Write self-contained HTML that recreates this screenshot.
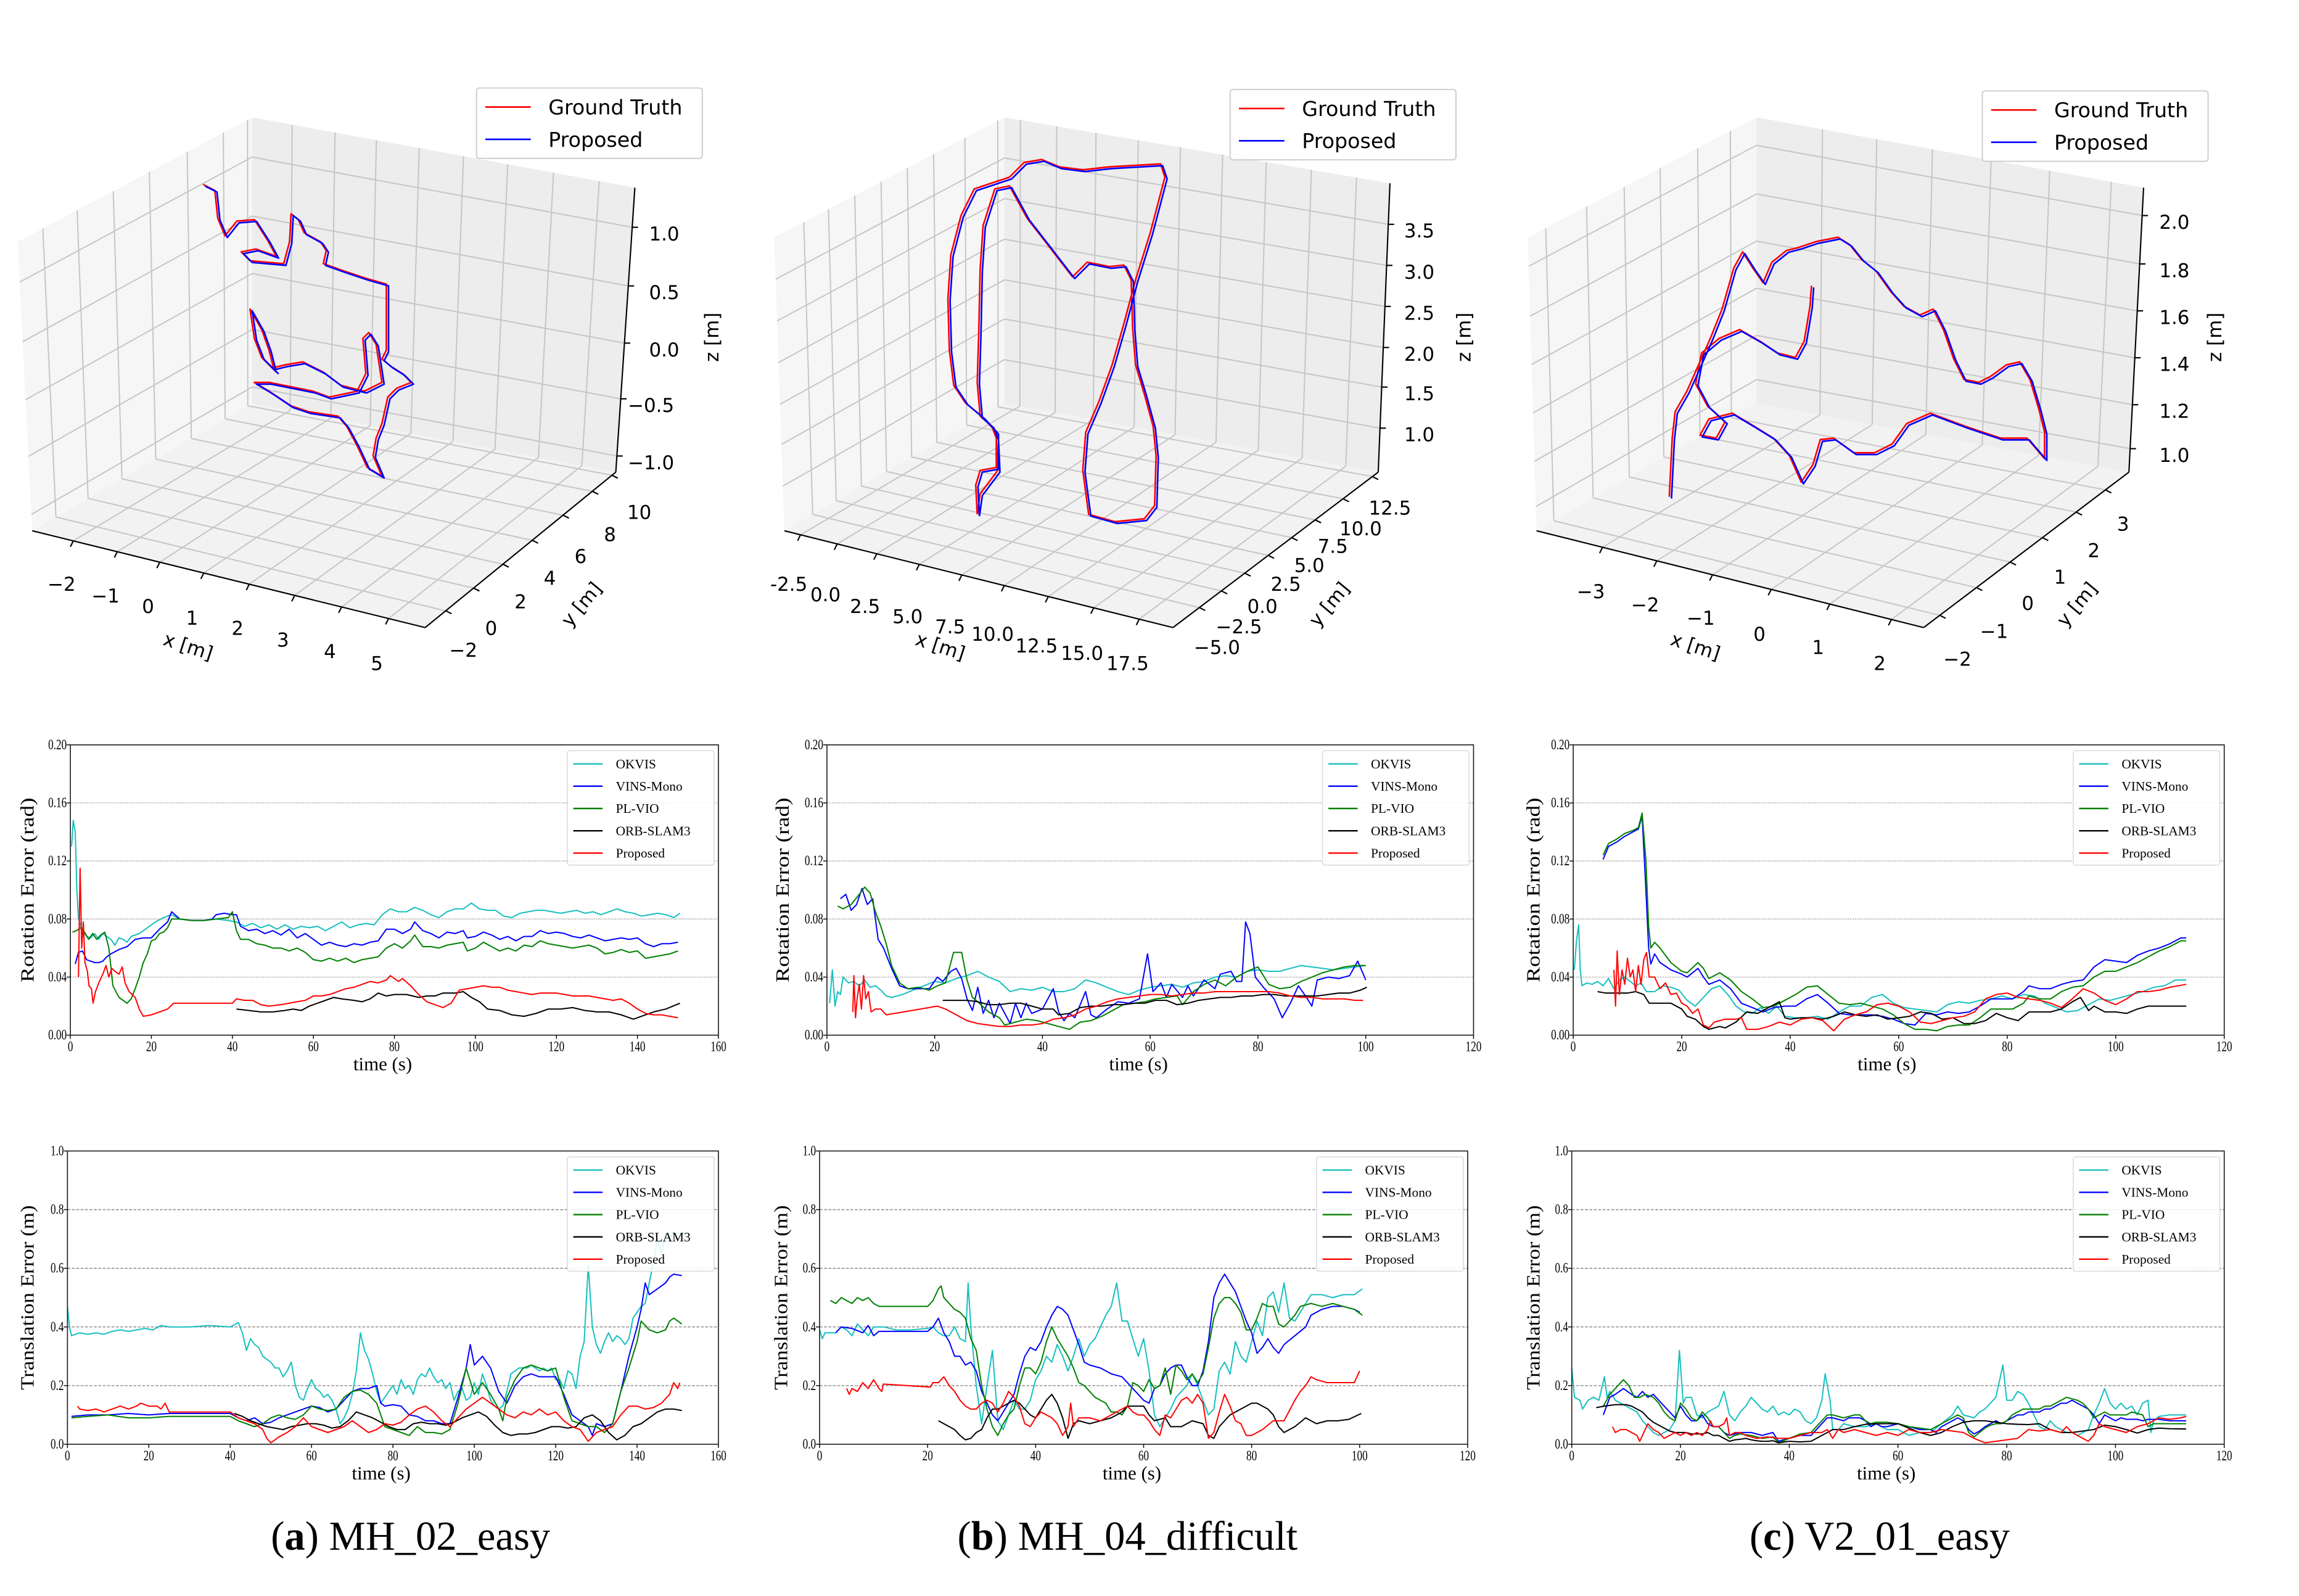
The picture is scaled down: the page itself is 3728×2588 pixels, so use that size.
<!DOCTYPE html>
<html><head><meta charset="utf-8"><style>
html,body{margin:0;padding:0;background:#fff;}
svg{display:block;}
</style></head><body>
<svg id="fig" xmlns="http://www.w3.org/2000/svg" width="3728" height="2588" viewBox="0 0 1568 1088.5">
<rect x="0" y="0" width="1568" height="1089" fill="#fff"/>
<g id="root"></g>
<text x="280" y="1057" text-anchor="middle" font-family="Liberation Serif, serif" font-size="28">(<tspan font-weight="bold">a</tspan>) MH_02_easy</text>
<text x="769" y="1057" text-anchor="middle" font-family="Liberation Serif, serif" font-size="28">(<tspan font-weight="bold">b</tspan>) MH_04_difficult</text>
<text x="1282" y="1057" text-anchor="middle" font-family="Liberation Serif, serif" font-size="28">(<tspan font-weight="bold">c</tspan>) V2_01_easy</text>
</svg>
<script>
// ---------- DATA ----------
const seriesNames = ['OKVIS','VINS-Mono','PL-VIO','ORB-SLAM3','Proposed'];
const seriesColors = ['#17bfbf','#0000ff','#008000','#000000','#ff0000'];
const rotTicks = [0,0.04,0.08,0.12,0.16,0.20];
const trTicks = [0,0.2,0.4,0.6,0.8,1.0];
const xTicksA = [0,20,40,60,80,100,120,140,160];
const xTicksBC = [0,20,40,60,80,100,120];

const rotA_okvis=[[0.3,.13],[0.7,.148],[1.2,.14],[1.6,.10],[2,.08],[3,.072],[4,.068],[5,.067],[6,.07],[7,.066],[8,.07],[9,.068],[10,.066],[11,.062],[12,.067],[13,.066],[14,.064],[15,.068],[17,.07],[19,.074],[21,.078],[23,.081],[25,.083],[27,.08],[30,.079],[33,.079],[36,.08],[39,.079],[41,.078],[43,.075],[45,.077],[47,.074],[49,.076],[51,.073],[53,.076],[55,.073],[57,.075],[59,.074],[61,.075],[63,.072],[65,.075],[67,.078],[69,.074],[71,.076],[73,.077],[75,.076],[77,.083],[79,.087],[81,.085],[83,.085],[85,.088],[87,.086],[89,.083],[91,.081],[93,.085],[95,.087],[97,.087],[99,.091],[101,.087],[103,.086],[105,.086],[107,.082],[109,.081],[111,.084],[113,.085],[115,.086],[117,.086],[119,.085],[121,.084],[123,.085],[125,.086],[127,.084],[129,.085],[131,.083],[133,.085],[135,.087],[137,.085],[139,.084],[141,.082],[143,.083],[145,.084],[147,.083],[149,.081],[150.5,.084]];
const rotA_vins=[[1.2,.049],[2,.057],[3,.058],[4,.052],[5,.051],[6,.050],[7,.050],[8,.051],[9,.054],[10,.056],[12,.059],[14,.061],[16,.066],[18,.067],[20,.067],[22,.073],[24,.078],[25,.085],[27,.080],[30,.079],[33,.079],[35,.08],[36,.083],[38,.084],[40,.083],[41,.083],[42,.075],[44,.072],[46,.073],[48,.070],[50,.072],[52,.069],[54,.073],[56,.067],[58,.070],[60,.066],[62,.062],[64,.064],[66,.062],[68,.061],[70,.063],[72,.062],[74,.064],[76,.065],[78,.073],[80,.073],[82,.070],[84,.073],[85,.078],[87,.072],[89,.070],[91,.067],[93,.071],[95,.070],[97,.072],[98,.067],[100,.068],[102,.071],[104,.069],[106,.066],[108,.068],[110,.065],[112,.068],[114,.068],[116,.072],[118,.070],[120,.071],[122,.070],[124,.068],[126,.067],[128,.069],[130,.067],[132,.065],[134,.066],[136,.067],[138,.066],[140,.067],[142,.063],[144,.061],[146,.063],[148,.063],[150,.064]];
const rotA_plvio=[[0.5,.071],[1.5,.072],[2.5,.074],[3.5,.071],[4.5,.066],[5.5,.070],[6.5,.066],[7.5,.069],[8.5,.071],[9.5,.060],[10.5,.034],[12,.026],[13,.024],[14,.022],[15,.025],[16,.032],[17,.040],[18,.050],[19,.056],[20,.065],[21,.066],[22,.070],[23,.071],[24,.074],[25,.080],[27,.080],[30,.079],[33,.079],[36,.080],[39,.081],[40,.085],[41,.072],[42,.066],[44,.066],[46,.063],[48,.062],[50,.060],[52,.060],[54,.058],[56,.060],[58,.057],[60,.052],[62,.051],[64,.053],[66,.051],[68,.053],[70,.050],[72,.052],[74,.053],[76,.054],[78,.060],[80,.063],[82,.060],[84,.065],[85,.069],[87,.061],[89,.061],[91,.060],[93,.062],[95,.063],[97,.064],[98,.058],[100,.060],[102,.064],[104,.061],[106,.058],[108,.060],[110,.058],[112,.062],[114,.061],[116,.065],[118,.063],[120,.062],[122,.061],[124,.060],[126,.061],[128,.062],[130,.060],[132,.056],[134,.057],[136,.059],[138,.057],[140,.058],[142,.053],[144,.054],[146,.055],[148,.056],[150,.058]];
const rotA_orb=[[41,.018],[44,.017],[47,.016],[50,.016],[53,.017],[55,.018],[57,.017],[59,.020],[62,.023],[65,.026],[67,.025],[70,.024],[72,.023],[74,.025],[76,.029],[78,.027],[80,.028],[83,.028],[86,.026],[88,.027],[90,.027],[92,.029],[95,.029],[97,.030],[99,.026],[101,.023],[103,.018],[106,.017],[109,.014],[112,.013],[115,.015],[118,.018],[121,.018],[124,.019],[127,.017],[130,.016],[133,.016],[136,.014],[139,.011],[141,.013],[144,.016],[147,.018],[150.5,.022]];
const rotA_prop=[[2,.04],[2.4,.115],[2.8,.06],[3.2,.078],[3.6,.05],[4.2,.044],[4.6,.034],[5.2,.032],[5.6,.022],[6.2,.030],[7,.036],[8,.042],[8.8,.048],[9.5,.040],[10.2,.046],[11,.044],[12,.042],[12.8,.047],[13.5,.036],[14.5,.030],[16,.026],[17,.018],[18,.013],[20,.014],[22,.016],[24,.018],[25.5,.022],[40,.022],[41,.025],[43,.024],[45,.024],[47,.021],[49,.020],[52,.021],[54,.022],[56,.023],[58,.024],[60,.027],[62,.027],[64,.028],[66,.030],[68,.032],[70,.033],[72,.035],[74,.037],[76,.036],[78,.038],[79,.041],[81,.037],[82,.039],[84,.034],[86,.028],[88,.023],[90,.021],[92,.019],[94,.022],[96,.031],[98,.032],[100,.033],[102,.034],[104,.033],[106,.033],[108,.031],[110,.030],[112,.029],[114,.028],[116,.029],[118,.029],[120,.029],[122,.028],[124,.027],[126,.027],[128,.027],[130,.026],[132,.025],[134,.024],[136,.025],[138,.022],[140,.018],[142,.015],[144,.014],[146,.014],[148,.013],[150,.012]];

const rotB_okvis=[[0.5,.022],[1,.045],[1.5,.02],[2,.03],[2.5,.028],[3,.04],[4,.036],[5,.037],[6,.034],[7,.038],[8,.033],[9,.034],[10,.031],[11,.027],[12,.026],[14,.028],[16,.031],[18,.034],[20,.037],[22,.036],[24,.039],[26,.041],[28,.044],[30,.040],[32,.037],[34,.030],[36,.032],[38,.031],[40,.033],[42,.030],[44,.030],[46,.032],[48,.038],[50,.036],[52,.033],[54,.030],[56,.028],[58,.031],[60,.033],[62,.034],[64,.035],[66,.033],[68,.036],[70,.037],[72,.040],[74,.041],[76,.040],[78,.044],[80,.045],[82,.044],[84,.044],[86,.046],[88,.048],[90,.047],[92,.046],[94,.045],[96,.046],[98,.047],[100,.048]];
const rotB_vins=[[2.5,.094],[3.5,.097],[4.5,.086],[5.5,.090],[6.5,.101],[7.5,.090],[8.5,.094],[9.5,.066],[10.5,.060],[12,.046],[13.5,.034],[15,.032],[17,.032],[19,.032],[20.5,.040],[21.5,.037],[23,.044],[24,.046],[25,.039],[26,.025],[27,.017],[28,.033],[29,.015],[30,.024],[31,.012],[32,.022],[33,.015],[34,.008],[35,.022],[36,.012],[37,.022],[38,.015],[40,.018],[42,.032],[43,.016],[44,.010],[45,.015],[46,.012],[48,.030],[49,.014],[50,.012],[52,.018],[54,.023],[56,.022],[58,.025],[59.5,.056],[60.5,.030],[62,.036],[63,.026],[64,.035],[66,.026],[67,.034],[68,.027],[70,.038],[72,.032],[73,.042],[75,.044],[76,.037],[77,.037],[77.7,.078],[78.5,.070],[79.5,.040],[81,.033],[83,.025],[84.5,.012],[86,.022],[87.5,.034],[89,.026],[90,.020],[91,.038],[93,.040],[95,.039],[97,.041],[98.5,.051],[100,.038]];
const rotB_plvio=[[2,.089],[3,.087],[4.5,.090],[6,.097],[7,.102],[8,.098],[9,.085],[10,.075],[11,.063],[12,.048],[13.5,.036],[15,.032],[17,.033],[19,.031],[20.5,.034],[22,.036],[23.5,.057],[25,.057],[26,.038],[27,.026],[28,.023],[30,.016],[32,.012],[33,.007],[35,.009],[37,.011],[39,.010],[41,.008],[43,.006],[45,.004],[47,.009],[49,.010],[51,.013],[53,.017],[55,.021],[57,.022],[59,.023],[61,.025],[63,.026],[65,.027],[66,.021],[68,.030],[70,.035],[72,.038],[74,.034],[76,.040],[78,.044],[80,.047],[82,.035],[84,.032],[86,.033],[88,.037],[90,.040],[92,.043],[94,.045],[96,.047],[98,.048],[100,.048]];
const rotB_orb=[[21.5,.024],[24,.024],[26,.024],[28,.023],[30,.021],[32,.021],[34,.022],[36,.022],[38,.020],[40,.018],[42,.018],[43,.014],[45,.015],[47,.019],[49,.020],[51,.020],[53,.021],[55,.021],[57,.022],[59,.022],[61,.024],[63,.024],[65,.021],[67,.022],[69,.024],[71,.025],[73,.026],[75,.026],[77,.027],[79,.027],[81,.028],[83,.028],[85,.027],[87,.027],[89,.027],[91,.027],[93,.028],[95,.029],[97,.029],[99,.031],[100.2,.033]];
const rotB_prop=[[4.8,.016],[5,.041],[5.3,.012],[5.6,.025],[6,.035],[6.4,.018],[6.8,.041],[7.2,.025],[7.7,.030],[8.2,.016],[9,.018],[10,.018],[11,.014],[20.5,.020],[22,.018],[24,.014],[26,.010],[28,.008],[30,.007],[32,.006],[34,.006],[36,.007],[38,.007],[40,.008],[42,.011],[44,.012],[46,.014],[48,.018],[50,.020],[52,.023],[54,.025],[56,.026],[58,.027],[60,.028],[62,.028],[64,.027],[66,.028],[68,.029],[70,.029],[72,.030],[74,.030],[76,.030],[78,.030],[80,.030],[82,.030],[84,.029],[86,.027],[88,.026],[90,.026],[92,.025],[94,.025],[96,.025],[98,.024],[99.5,.024]];

const rotC_okvis=[[0.2,.045],[0.6,.065],[1,.076],[1.3,.045],[1.6,.034],[2.5,.036],[3.5,.035],[4.5,.037],[5.5,.034],[6.5,.039],[7.5,.032],[8.5,.038],[9.5,.040],[10.5,.037],[11.5,.034],[12.5,.036],[13.5,.030],[15,.030],[16.5,.034],[18,.033],[19.5,.031],[21,.024],[22.5,.020],[24,.026],[25.5,.032],[27,.034],[28.5,.028],[30,.020],[31.5,.016],[33,.015],[34.5,.019],[36,.015],[37.5,.020],[39,.013],[41,.012],[43,.012],[45,.013],[47,.011],[49,.016],[51,.020],[53,.020],[55,.026],[57,.028],[59,.022],[61,.019],[63,.018],[65,.017],[67,.016],[69,.021],[71,.023],[73,.022],[75,.024],[77,.025],[79,.027],[81,.025],[83,.028],[85,.027],[87,.022],[89,.019],[91,.016],[93,.017],[95,.021],[97,.025],[99,.024],[101,.026],[103,.028],[105,.030],[107,.033],[109,.034],[111,.038],[113,.038]];
const rotC_vins=[[5.5,.121],[6.5,.130],[8,.133],[9.5,.137],[11,.140],[12,.142],[12.7,.151],[13.4,.10],[13.9,.060],[14.3,.049],[15,.056],[16,.050],[18,.045],[20,.042],[21,.040],[23,.046],[24,.040],[25,.035],[27,.038],[29,.032],[31,.022],[33,.019],[35,.016],[37,.019],[39,.020],[41,.020],[43,.025],[45,.028],[47,.022],[49,.015],[51,.014],[53,.014],[55,.014],[57,.013],[59,.011],[61,.008],[63,.007],[65,.015],[67,.014],[69,.016],[71,.015],[73,.016],[75,.020],[77,.025],[79,.025],[81,.025],[83,.030],[84,.034],[86,.032],[88,.032],[90,.035],[92,.037],[94,.038],[96,.047],[98,.052],[100,.051],[102,.050],[104,.055],[106,.058],[108,.060],[110,.063],[112,.067],[113,.067]];
const rotC_plvio=[[5.5,.124],[6.5,.132],[8,.135],[9.5,.139],[11,.141],[12,.143],[12.7,.153],[13.4,.12],[13.9,.075],[14.3,.060],[15,.064],[16,.060],[18,.050],[20,.044],[21,.043],[23,.050],[24,.046],[25,.039],[27,.043],[29,.038],[31,.030],[33,.025],[35,.019],[37,.020],[39,.024],[41,.028],[43,.033],[45,.034],[47,.028],[49,.022],[51,.021],[53,.022],[55,.020],[57,.018],[59,.014],[61,.008],[63,.004],[65,.004],[67,.003],[69,.006],[71,.007],[73,.007],[75,.012],[77,.018],[79,.018],[81,.018],[83,.022],[84,.027],[86,.025],[88,.025],[90,.030],[92,.033],[94,.034],[96,.040],[98,.044],[100,.044],[102,.047],[104,.050],[106,.054],[108,.058],[110,.061],[112,.065],[113,.065]];
const rotC_orb=[[4.5,.030],[6,.029],[8,.029],[10,.029],[11.5,.030],[13,.028],[14,.022],[16,.022],[18,.022],[20,.018],[21,.013],[22.5,.011],[24,.006],[25,.004],[27,.006],[28,.005],[30,.009],[32,.016],[34,.015],[36,.019],[38,.023],[39,.012],[40,.011],[42,.012],[44,.012],[46,.011],[48,.013],[50,.016],[52,.014],[54,.013],[56,.014],[58,.011],[60,.012],[62,.013],[64,.016],[66,.015],[68,.011],[70,.012],[72,.008],[74,.008],[76,.010],[78,.015],[80,.012],[82,.010],[84,.016],[86,.016],[88,.016],[90,.018],[92,.023],[93.5,.026],[95,.017],[96,.020],[98,.016],[100,.016],[102,.015],[104,.018],[106,.020],[108,.020],[110,.020],[113,.020]];
const rotC_prop=[[7.5,.045],[7.8,.020],[8.1,.058],[8.5,.028],[9,.045],[9.5,.035],[10,.053],[10.5,.040],[11,.045],[11.5,.030],[12,.048],[12.5,.035],[13,.052],[13.5,.057],[14,.040],[15,.040],[16,.032],[17,.036],[18,.028],[19,.029],[20,.022],[21,.020],[22,.015],[23,.018],[24,.007],[25,.005],[26,.009],[28,.011],[30,.011],[31,.012],[32,.004],[34,.004],[36,.006],[38,.009],[40,.007],[42,.011],[44,.012],[46,.010],[48,.003],[50,.011],[52,.014],[54,.016],[56,.021],[58,.022],[60,.020],[62,.016],[64,.009],[66,.008],[68,.010],[70,.012],[72,.013],[74,.016],[76,.025],[78,.028],[80,.029],[82,.026],[84,.025],[86,.024],[88,.022],[90,.019],[92,.025],[94,.032],[96,.029],[98,.024],[100,.021],[102,.025],[104,.030],[106,.030],[108,.031],[110,.033],[113,.035]];

const trA_okvis=[[0,.47],[0.5,.40],[1,.37],[3,.38],[5,.375],[7,.38],[9,.375],[11,.385],[13,.39],[15,.385],[17,.39],[19,.395],[21,.39],[23,.405],[25,.40],[30,.40],[35,.405],[40,.40],[42,.415],[43,.38],[44,.32],[45,.36],[46,.34],[47,.33],[48,.30],[49,.29],[50,.28],[51,.26],[52,.26],[53,.23],[54,.25],[55,.28],[56,.20],[57,.16],[58,.15],[59,.19],[60,.22],[61,.19],[62,.18],[63,.16],[64,.17],[65,.15],[66,.12],[67,.07],[68,.09],[69,.12],[70,.17],[71,.25],[72,.38],[73,.32],[74,.29],[75,.24],[76,.18],[77,.14],[78,.16],[79,.18],[80,.20],[81,.17],[82,.22],[83,.19],[84,.20],[85,.17],[86,.22],[87,.24],[88,.23],[89,.26],[90,.23],[91,.21],[92,.22],[93,.19],[94,.21],[95,.15],[96,.18],[97,.19],[98,.15],[99,.16],[100,.21],[101,.17],[102,.24],[103,.20],[104,.15],[105,.13],[106,.12],[107,.13],[108,.18],[109,.24],[110,.25],[111,.26],[112,.26],[113,.26],[114,.27],[115,.26],[116,.25],[117,.26],[118,.25],[119,.26],[120,.22],[121,.22],[122,.19],[123,.25],[124,.24],[125,.19],[126,.30],[127,.35],[128,.61],[129,.40],[130,.34],[131,.31],[132,.35],[133,.38],[134,.35],[135,.37],[136,.36],[137,.34],[138,.36],[139,.43],[140,.45],[141,.47],[142,.48],[143,.55],[144,.62],[145,.70],[146,.65],[147,.72],[148,.70],[149,.72],[150,.72],[151,.72]];
const trA_vins=[[1,.095],[5,.10],[10,.10],[15,.105],[20,.10],[25,.105],[30,.105],[40,.105],[42,.09],[44,.08],[46,.09],[48,.07],[50,.075],[52,.09],[54,.10],[56,.11],[58,.12],[60,.13],[62,.125],[64,.11],[66,.12],[68,.15],[70,.18],[72,.19],[74,.19],[76,.20],[77,.14],[78,.13],[80,.135],[82,.13],[84,.10],[86,.095],[88,.08],[90,.08],[92,.07],[94,.07],[96,.16],[98,.26],[99,.34],[100,.27],[102,.30],[104,.26],[106,.18],[108,.14],[110,.20],[112,.23],[114,.24],[116,.23],[118,.23],[120,.23],[122,.17],[124,.10],[126,.08],[128,.06],[129,.03],[130,.07],[132,.06],[134,.07],[136,.18],[138,.30],[140,.40],[141,.46],[142,.55],[143,.51],[145,.53],[147,.55],[148,.57],[149,.58],[151,.575]];
const trA_plvio=[[1,.09],[5,.095],[10,.10],[15,.09],[20,.09],[25,.095],[40,.095],[42,.08],[44,.07],[46,.06],[48,.07],[50,.09],[52,.10],[54,.09],[56,.085],[58,.10],[60,.13],[62,.12],[64,.115],[66,.12],[68,.16],[70,.18],[72,.185],[74,.17],[76,.14],[77,.10],[78,.06],[80,.05],[82,.04],[84,.03],[86,.06],[88,.04],[90,.04],[92,.035],[94,.05],[96,.14],[98,.26],[100,.17],[102,.21],[104,.17],[106,.12],[107,.08],[108,.16],[110,.22],[112,.26],[114,.27],[116,.26],[118,.25],[120,.26],[121,.21],[122,.16],[124,.08],[126,.07],[128,.06],[130,.06],[132,.04],[134,.07],[136,.18],[138,.26],[140,.35],[141,.42],[143,.39],[145,.38],[147,.39],[148,.42],[149,.43],[151,.41]];
const trA_orb=[[41,.105],[43,.095],[45,.08],[47,.07],[49,.06],[51,.055],[53,.05],[55,.06],[57,.065],[59,.07],[61,.07],[63,.065],[65,.055],[67,.06],[69,.08],[71,.11],[73,.10],[75,.09],[77,.075],[79,.06],[81,.05],[83,.05],[85,.07],[87,.075],[89,.07],[91,.07],[93,.065],[95,.075],[97,.09],[99,.10],[101,.11],[103,.095],[105,.065],[107,.04],[109,.03],[111,.035],[113,.035],[115,.04],[117,.05],[119,.06],[121,.06],[123,.055],[125,.06],[127,.09],[129,.10],[131,.08],[133,.04],[135,.015],[137,.03],[139,.06],[141,.07],[143,.09],[145,.11],[147,.12],[149,.12],[151,.115]];
const trA_prop=[[2.5,.13],[3,.12],[5,.115],[7,.12],[9,.11],[11,.12],[13,.13],[15,.12],[17,.13],[18,.14],[20,.13],[22,.13],[23,.12],[24,.14],[25,.11],[40,.11],[42,.09],[44,.08],[46,.07],[48,.05],[49,.02],[50,.005],[52,.025],[54,.04],[56,.06],[58,.09],[60,.06],[62,.05],[64,.04],[66,.05],[68,.06],[70,.08],[72,.06],[74,.04],[76,.05],[78,.07],[80,.065],[82,.075],[84,.10],[86,.12],[88,.13],[90,.11],[92,.08],[94,.06],[96,.09],[98,.12],[100,.14],[102,.16],[104,.14],[106,.12],[108,.10],[110,.09],[112,.11],[114,.10],[116,.12],[118,.10],[120,.11],[122,.08],[124,.06],[126,.05],[128,.01],[130,.04],[132,.05],[134,.06],[136,.10],[138,.13],[140,.13],[142,.12],[144,.125],[146,.14],[148,.17],[149,.21],[150,.19],[150.5,.21]];

const trB_okvis=[[0,.39],[0.5,.36],[1,.38],[3,.38],[4,.40],[5,.39],[6,.37],[7,.41],[8,.39],[9,.37],[10,.40],[12,.40],[14,.39],[17,.39],[20,.395],[21,.40],[22,.38],[23,.37],[24,.37],[25,.40],[26,.36],[27,.35],[27.5,.55],[28,.40],[29,.20],[30,.07],[31,.20],[32,.32],[33,.08],[34,.05],[35,.10],[36,.15],[37,.12],[38,.12],[39,.15],[40,.22],[41,.25],[42,.30],[43,.28],[44,.34],[45,.30],[46,.25],[47,.30],[48,.36],[49,.30],[50,.34],[51,.36],[52,.40],[53,.44],[54,.47],[55,.55],[56,.42],[57,.42],[58,.36],[59,.30],[60,.36],[61,.25],[62,.10],[63,.06],[64,.09],[65,.12],[66,.16],[67,.18],[68,.20],[69,.24],[70,.20],[71,.15],[72,.10],[73,.12],[74,.25],[75,.28],[76,.24],[77,.35],[78,.30],[79,.28],[80,.35],[81,.42],[82,.37],[83,.50],[84,.52],[85,.45],[86,.55],[87,.43],[88,.42],[89,.45],[90,.48],[91,.51],[93,.51],[95,.50],[97,.51],[99,.51],[100.5,.53]];
const trB_vins=[[3,.38],[4,.40],[6,.395],[8,.38],[9,.405],[10,.37],[11,.385],[15,.385],[20,.385],[21,.40],[22,.43],[23,.38],[24,.35],[25,.30],[26,.30],[27,.27],[28,.28],[29,.25],[30,.18],[31,.14],[32,.10],[33,.08],[34,.11],[35,.14],[36,.17],[37,.24],[38,.30],[39,.33],[40,.32],[41,.35],[42,.40],[43,.44],[44,.47],[45,.46],[46,.44],[47,.39],[48,.34],[49,.28],[50,.27],[52,.26],[54,.24],[56,.23],[58,.19],[60,.15],[61,.14],[62,.19],[63,.20],[64,.24],[65,.26],[66,.27],[67,.27],[68,.23],[69,.20],[70,.20],[71,.25],[72,.35],[73,.50],[74,.55],[75,.58],[76,.55],[77,.52],[78,.47],[79,.42],[80,.38],[81,.31],[82,.33],[83,.36],[84,.33],[85,.31],[86,.34],[88,.37],[90,.40],[91,.44],[93,.46],[95,.47],[97,.47],[99,.46],[100,.45]];
const trB_plvio=[[2,.49],[3,.48],[4,.50],[5,.49],[6,.48],[7,.50],[8,.49],[9,.50],[10,.48],[11,.47],[15,.47],[20,.47],[21,.49],[22,.53],[22.5,.54],[23,.50],[24,.48],[25,.46],[26,.45],[27,.43],[28,.36],[29,.32],[30,.20],[31,.12],[32,.06],[33,.03],[34,.07],[35,.10],[36,.12],[37,.20],[38,.26],[39,.26],[40,.24],[41,.28],[42,.35],[43,.40],[44,.36],[45,.33],[46,.30],[47,.26],[48,.21],[49,.20],[50,.18],[51,.16],[52,.15],[53,.14],[54,.11],[55,.11],[56,.10],[57,.13],[58,.21],[59,.20],[60,.18],[61,.22],[62,.19],[63,.20],[64,.26],[65,.17],[66,.27],[67,.25],[68,.22],[69,.24],[70,.21],[71,.24],[72,.33],[73,.43],[74,.48],[75,.50],[76,.50],[77,.48],[78,.45],[79,.39],[80,.39],[81,.43],[82,.48],[83,.47],[84,.47],[85,.41],[86,.40],[87,.42],[88,.44],[89,.47],[91,.48],[93,.47],[95,.48],[97,.47],[99,.46],[100.5,.44]];
const trB_orb=[[22,.08],[23,.07],[24,.06],[25,.05],[26,.03],[27,.015],[28,.02],[29,.04],[30,.05],[31,.09],[32,.12],[33,.12],[34,.13],[35,.14],[36,.15],[37,.14],[38,.12],[39,.10],[40,.09],[41,.12],[42,.15],[43,.17],[44,.14],[45,.09],[46,.02],[47,.07],[48,.08],[50,.07],[52,.08],[54,.09],[56,.11],[57,.13],[58,.13],[60,.13],[61,.10],[62,.08],[64,.09],[65,.06],[67,.06],[69,.08],[71,.07],[72,.03],[73,.02],[74,.06],[76,.10],[78,.12],[79,.13],[80,.14],[81,.14],[83,.12],[84,.10],[85,.06],[86,.04],[88,.06],[90,.09],[92,.07],[94,.08],[96,.08],[98,.085],[100.3,.105]];
const trB_prop=[[5,.19],[5.5,.17],[6,.19],[7,.18],[8,.21],[9,.19],[10,.22],[11,.19],[11.5,.18],[11.8,.205],[20.5,.195],[21,.21],[22,.21],[23,.23],[24,.20],[25,.18],[26,.15],[27,.13],[28,.12],[29,.12],[30,.14],[31,.15],[32,.14],[33,.11],[34,.14],[35,.18],[36,.16],[37,.13],[38,.07],[39,.06],[40,.09],[41,.11],[42,.10],[43,.09],[44,.07],[45,.03],[46,.06],[46.5,.14],[47,.06],[48,.09],[50,.09],[52,.08],[54,.10],[56,.12],[57,.13],[58,.11],[59,.10],[60,.10],[61,.08],[62,.05],[63,.03],[64,.10],[65,.09],[66,.12],[67,.15],[68,.16],[69,.14],[70,.17],[71,.14],[72,.02],[73,.04],[74,.11],[75,.17],[76,.13],[77,.08],[78,.07],[79,.03],[80,.03],[82,.05],[84,.08],[86,.08],[88,.15],[89,.18],[90,.20],[91,.23],[92,.22],[94,.21],[96,.21],[98,.21],[99,.21],[100,.25]];

const trC_okvis=[[0,.26],[0.5,.16],[1.5,.15],[2,.12],[3,.15],[4,.16],[5,.15],[5.5,.19],[6,.23],[6.5,.16],[7,.18],[8,.15],[10,.13],[11,.12],[12,.11],[13,.08],[14,.06],[15,.04],[16,.03],[17,.04],[18,.05],[19,.08],[19.8,.32],[20.5,.14],[21,.16],[22,.16],[23,.10],[24,.09],[25,.11],[26,.12],[27,.13],[28,.18],[29,.10],[30,.08],[31,.11],[32,.13],[33,.16],[34,.14],[35,.12],[36,.11],[37,.13],[38,.10],[39,.11],[40,.10],[41,.12],[42,.11],[43,.08],[44,.07],[45,.09],[46,.15],[46.6,.24],[47.5,.15],[48,.05],[49,.05],[50,.07],[52,.06],[54,.06],[56,.07],[58,.05],[60,.05],[62,.03],[64,.04],[66,.04],[68,.07],[70,.10],[71,.13],[72,.10],[74,.09],[75,.11],[76,.12],[77,.14],[78,.16],[79.3,.27],[80,.15],[81,.15],[82,.18],[83,.17],[84,.14],[85,.10],[86,.06],[87,.05],[88,.08],[89,.06],[90,.05],[91,.04],[92,.04],[93,.03],[94,.04],[95,.05],[96,.10],[97,.14],[98,.19],[99,.14],[100,.12],[101,.14],[102,.12],[103,.13],[104,.10],[105,.14],[106,.15],[106.5,.04],[107,.08],[108,.095],[110,.10],[112,.10],[113,.10]];
const trC_vins=[[5.8,.10],[7,.16],[8,.17],[9.5,.19],[11,.17],[12,.16],[13,.18],[14,.16],[15,.17],[16,.15],[17,.13],[18,.11],[19,.09],[20,.13],[21,.10],[22,.08],[23,.08],[24,.10],[25,.07],[26,.06],[27,.06],[28,.04],[29,.03],[30,.035],[31,.04],[32,.04],[33,.04],[35,.03],[37,.04],[38,.01],[40,.02],[42,.03],[44,.03],[46,.07],[47,.09],[48,.09],[50,.08],[51,.09],[53,.09],[54,.08],[55,.06],[56,.07],[57,.06],[58,.06],[60,.07],[62,.06],[64,.05],[66,.05],[67,.04],[68,.06],[70,.08],[71,.09],[72,.08],[73,.05],[74,.035],[75,.045],[76,.06],[77,.07],[78,.08],[79,.07],[80,.08],[81,.09],[82,.10],[83,.10],[84,.11],[85,.11],[86,.11],[87,.12],[88,.12],[89,.13],[90,.14],[91,.14],[92,.15],[93,.14],[94,.13],[95,.12],[96,.10],[97,.07],[98,.10],[99,.09],[100,.08],[101,.09],[102,.085],[104,.085],[105,.08],[106,.085],[108,.085],[110,.08],[113,.08]];
const trC_plvio=[[5.8,.13],[7,.17],[8,.19],[9.5,.22],[10.5,.20],[11.5,.16],[12.5,.16],[13.5,.17],[15,.16],[16,.14],[17,.11],[18,.09],[19,.08],[20,.14],[21,.12],[22,.09],[23,.08],[24,.11],[25,.09],[26,.06],[27,.06],[28,.04],[29,.02],[30,.03],[31,.035],[33,.03],[35,.02],[37,.025],[38,.005],[40,.02],[42,.035],[44,.04],[46,.08],[47,.10],[48,.10],[50,.09],[52,.10],[53,.10],[54,.08],[55,.07],[56,.075],[58,.075],[60,.07],[62,.06],[64,.055],[66,.05],[68,.07],[70,.09],[71,.10],[72,.09],[73,.04],[74,.025],[75,.04],[76,.055],[77,.065],[78,.07],[79,.07],[80,.08],[81,.10],[82,.11],[83,.12],[84,.12],[85,.12],[86,.12],[87,.13],[88,.13],[89,.14],[90,.15],[91,.16],[92,.155],[93,.15],[94,.14],[95,.12],[96,.09],[97,.10],[98,.11],[99,.10],[100,.10],[102,.10],[103,.11],[105,.10],[106,.06],[107,.07],[110,.07],[113,.07]];
const trC_orb=[[4.5,.125],[6,.13],[8,.135],[10,.135],[11,.13],[12,.12],[13,.11],[14,.09],[15,.075],[16,.065],[17,.055],[18,.045],[19,.04],[20,.04],[21,.04],[22,.035],[23,.035],[24,.035],[25,.04],[26,.03],[27,.03],[28,.02],[29,.01],[30,.015],[31,.017],[32,.02],[33,.015],[34,.012],[35,.01],[36,.01],[37,.012],[38,.005],[40,.01],[42,.008],[44,.01],[46,.03],[48,.05],[50,.05],[52,.06],[54,.068],[56,.07],[58,.07],[60,.07],[62,.055],[64,.04],[66,.03],[68,.04],[70,.06],[72,.075],[74,.08],[76,.08],[78,.075],[80,.07],[82,.068],[84,.067],[86,.07],[88,.05],[90,.04],[92,.04],[94,.045],[96,.05],[98,.065],[100,.06],[102,.05],[104,.038],[106,.05],[108,.055],[110,.053],[113,.052]];
const trC_prop=[[7.5,.06],[8,.04],[9,.05],[10,.05],[11,.04],[12,.03],[12.5,.01],[13,.03],[14,.07],[15,.05],[16,.04],[17,.02],[18,.03],[19,.04],[20,.03],[21,.04],[22,.03],[23,.04],[24,.03],[25,.05],[25.5,.08],[26,.06],[27,.06],[28,.07],[28.5,.09],[29,.03],[30,.04],[31,.04],[32,.03],[34,.02],[36,.025],[38,.02],[40,.02],[42,.03],[44,.04],[46,.04],[47,.05],[48,.02],[49,.05],[50,.04],[52,.05],[54,.04],[56,.03],[58,.04],[60,.03],[62,.05],[64,.04],[66,.04],[68,.05],[70,.045],[72,.04],[74,.02],[76,.005],[78,.01],[80,.015],[82,.02],[84,.05],[86,.045],[88,.05],[90,.04],[91,.06],[92,.04],[94,.02],[95,.01],[96,.03],[97,.07],[98,.06],[100,.05],[102,.04],[104,.06],[106,.07],[108,.09],[110,.085],[112,.09],[113,.095]];

// 3D trajectories (projected view coordinates)
const trajA=[[140,127],[148,131],[150,150],[155,162],[163,152],[175,151],[184,165],[190,176],[176,171],[166,173],[172,179],[195,181],[199,166],[200,147],[205,151],[209,160],[220,166],[224,172],[222,181],[236,186],[251,191],[265,195],[265,215],[265,240],[262,246],[268,251],[276,256],[282,262],[272,266],[266,272],[262,290],[258,300],[256,312],[262,326],[252,320],[245,305],[238,292],[232,285],[212,282],[200,278],[185,268],[175,262],[185,262],[200,265],[215,268],[226,272],[245,268],[251,256],[249,232],[253,228],[258,236],[262,262],[250,268],[234,264],[222,255],[208,248],[196,250],[188,252],[185,240],[180,226],[172,212],[175,232],[180,245],[190,255]];
const trajB=[[668,352],[667,332],[670,322],[681,320],[681,296],[672,286],[660,276],[652,264],[649,240],[648,205],[650,175],[657,148],[666,130],[678,126],[690,122],[700,112],[712,110],[724,115],[740,117],[758,115],[775,114],[793,113],[796,122],[786,160],[776,192],[768,222],[760,250],[751,275],[742,296],[740,322],[744,352],[762,357],[782,355],[789,346],[790,312],[788,292],[782,270],[776,250],[774,225],[773,192],[768,182],[758,183],[743,180],[733,190],[726,181],[716,168],[702,150],[690,128],[680,130],[672,155],[670,185],[669,230],[668,262],[670,285],[678,292],[681,300],[682,322],[670,338],[668,352]];
const trajC=[[1140,340],[1142,300],[1144,282],[1152,268],[1160,250],[1168,232],[1176,212],[1184,184],[1190,173],[1197,184],[1204,194],[1210,180],[1220,172],[1228,170],[1240,166],[1255,163],[1263,168],[1271,178],[1281,186],[1291,200],[1300,210],[1311,216],[1320,212],[1327,226],[1334,246],[1341,260],[1351,262],[1359,258],[1370,250],[1379,248],[1386,260],[1392,280],[1396,296],[1396,314],[1384,300],[1366,300],[1342,292],[1318,283],[1302,290],[1292,304],[1280,310],[1266,310],[1252,300],[1243,301],[1238,318],[1230,330],[1222,312],[1211,300],[1198,292],[1183,283],[1167,287],[1161,298],[1172,300],[1178,289],[1166,278],[1158,263],[1162,242],[1174,232],[1188,226],[1202,234],[1214,242],[1226,245],[1232,234],[1236,210],[1237,196]];

// ---------- RENDER ----------
const NS='http://www.w3.org/2000/svg';
const root=document.getElementById('root');
function mk(tag,attrs,parent){const e=document.createElementNS(NS,tag);for(const k in attrs)e.setAttribute(k,attrs[k]);(parent||root).appendChild(e);return e;}

const charts=[
 {name:'rotation-chart-a',x0:48,x1:490,y0:706,y1:508,xmax:160,ymax:0.2,ticks:rotTicks,xt:xTicksA,dec:2,ylab:'Rotation Error (rad)',labx:19,grid:'#b0b0b0',gridDash:'1,0.6',data:[rotA_okvis,rotA_vins,rotA_plvio,rotA_orb,rotA_prop]},
 {name:'rotation-chart-b',x0:564,x1:1005,y0:706,y1:508,xmax:120,ymax:0.2,ticks:rotTicks,xt:xTicksBC,dec:2,ylab:'Rotation Error (rad)',labx:534,grid:'#b0b0b0',gridDash:'1,0.6',data:[rotB_okvis,rotB_vins,rotB_plvio,rotB_orb,rotB_prop]},
 {name:'rotation-chart-c',x0:1073,x1:1517,y0:706,y1:508,xmax:120,ymax:0.2,ticks:rotTicks,xt:xTicksBC,dec:2,ylab:'Rotation Error (rad)',labx:1046,grid:'#b0b0b0',gridDash:'1,0.6',data:[rotC_okvis,rotC_vins,rotC_plvio,rotC_orb,rotC_prop]},
 {name:'translation-chart-a',x0:46,x1:490,y0:985,y1:785,xmax:160,ymax:1.0,ticks:trTicks,xt:xTicksA,dec:1,ylab:'Translation Error (m)',labx:19,grid:'#888',gridDash:'2,1',data:[trA_okvis,trA_vins,trA_plvio,trA_orb,trA_prop]},
 {name:'translation-chart-b',x0:559,x1:1001,y0:985,y1:785,xmax:120,ymax:1.0,ticks:trTicks,xt:xTicksBC,dec:1,ylab:'Translation Error (m)',labx:533,grid:'#888',gridDash:'2,1',data:[trB_okvis,trB_vins,trB_plvio,trB_orb,trB_prop]},
 {name:'translation-chart-c',x0:1072,x1:1517,y0:985,y1:785,xmax:120,ymax:1.0,ticks:trTicks,xt:xTicksBC,dec:1,ylab:'Translation Error (m)',labx:1046,grid:'#888',gridDash:'2,1',data:[trC_okvis,trC_vins,trC_plvio,trC_orb,trC_prop]}
];

charts.forEach(c=>{
 const g=mk('g',{});
 
 
 const sx=v=>c.x0+(c.x1-c.x0)*v/c.xmax;
 const sy=v=>c.y0+(c.y1-c.y0)*v/c.ymax;
 c.ticks.forEach(t=>{
  if(t>0&&t<c.ymax){const l=mk('line',{x1:c.x0,x2:c.x1,y1:sy(t),y2:sy(t),stroke:c.grid,'stroke-width':0.6,'stroke-dasharray':c.gridDash},g);
   }
  const tl=mk('line',{x1:c.x0-2.5,x2:c.x0,y1:sy(t),y2:sy(t),stroke:'#000','stroke-width':0.6},g);
  
  const tx=mk('text',{x:c.x0-2.5,y:sy(t)+3,'text-anchor':'end','font-family':'Liberation Serif, serif','font-size':8.5,transform:`translate(${c.x0-2.5},${sy(t)+3}) scale(0.85,1.15) translate(${-(c.x0-2.5)},${-(sy(t)+3)})`},g);
  tx.textContent=t.toFixed(c.dec);
  
 });
 c.xt.forEach(t=>{
  const tl=mk('line',{x1:sx(t),x2:sx(t),y1:c.y0,y2:c.y0+2.5,stroke:'#000','stroke-width':0.6},g);
  
  const tx=mk('text',{x:sx(t),y:c.y0+11,'text-anchor':'middle','font-family':'Liberation Serif, serif','font-size':8.5,transform:`translate(${sx(t)},${c.y0+11}) scale(0.85,1.15) translate(${-sx(t)},${-(c.y0+11)})`},g);
  tx.textContent=String(t);
  
 });
 c.data.forEach((s,i)=>{
  const p=mk('polyline',{points:s.map(d=>sx(d[0]).toFixed(2)+','+sy(d[1]).toFixed(2)).join(' '),fill:'none',stroke:seriesColors[i],'stroke-width':0.85,'stroke-linejoin':'round'},g);
  
  
 });
 const fr=mk('rect',{x:c.x0,y:c.y1,width:c.x1-c.x0,height:c.y0-c.y1,fill:'none',stroke:'#222','stroke-width':0.7},g);
 
 const xl=mk('text',{x:(c.x0+c.x1)/2-8,y:c.y0+24,'text-anchor':'middle','font-family':'Liberation Serif, serif','font-size':13},g);
 xl.textContent='time (s)';
 
 const cy=(c.y0+c.y1)/2;
 const yl=mk('text',{x:c.labx,y:cy,'text-anchor':'middle','font-family':'Liberation Serif, serif','font-size':13,textLength:126,lengthAdjust:'spacingAndGlyphs',transform:`rotate(-90 ${c.labx} ${cy}) translate(0,4)`},g);
 yl.textContent=c.ylab;
 
 const lx=c.x1-103, ly=c.y1+4;
 const lg=mk('g',{},g);
 
 mk('rect',{x:lx,y:ly,width:100,height:78,rx:1.5,fill:'#fff','fill-opacity':0.85,stroke:'#ddd','stroke-width':0.7},lg);
 seriesNames.forEach((n,i)=>{
  const yy=ly+9+i*15.2;
  const e=mk('g',{},lg);
  
  mk('line',{x1:lx+4,x2:lx+24,y1:yy,y2:yy,stroke:seriesColors[i],'stroke-width':1},e);
  const t=mk('text',{x:lx+33,y:yy+3,'font-family':'Liberation Serif, serif','font-size':9},e);
  t.textContent=n;
 });
});

// ---------- 3D PANELS ----------
const panels=[
 {name:'trajectory-3d-a',B0:[172,275],B1:[172,80],L0:[22,362],L1:[12,165],R0:[420,322],R1:[433,128],F0:[290,428],
  xl:[['−2',42,398],['−1',72,406],['0',101,413],['1',131,421],['2',162,428],['3',193,436],['4',225,444],['5',257,452]],
  yl:[['−2',316,443],['0',335,428],['2',355,410],['4',375,394],['6',396,379],['8',416,364],['10',436,349]],
  zl:[['1.0',453,159],['0.5',453,199],['0.0',453,238],['−0.5',444,276],['−1.0',444,315]],
  xt:[127,440],yt:[400,410],zt:[490,225],leg:[325,60],traj:trajA},
 {name:'trajectory-3d-b',B0:[685,275],B1:[685,80],L0:[535,362],L1:[528,162],R0:[940,322],R1:[948,125],F0:[800,428],
  xl:[['-2.5',538,398],['0.0',563,405],['2.5',590,413],['5.0',619,420],['7.5',648,427],['10.0',677,432],['12.5',707,440],['15.0',738,445],['17.5',769,452]],
  yl:[['−5.0',830,441],['−2.5',845,427],['0.0',861,413],['2.5',877,398],['5.0',893,385],['7.5',909,372],['10.0',928,360],['12.5',948,346]],
  zl:[['3.5',968,157],['3.0',968,185],['2.5',968,213],['2.0',968,241],['1.5',968,268],['1.0',968,296]],
  xt:[640,440],yt:[910,410],zt:[1003,225],leg:[839,61],traj:trajB},
 {name:'trajectory-3d-c',B0:[1198,275],B1:[1198,80],L0:[1048,362],L1:[1042,162],R0:[1452,322],R1:[1462,128],F0:[1312,428],
  xl:[['−3',1085,403],['−2',1122,412],['−1',1160,421],['0',1200,432],['1',1240,441],['2',1282,452]],
  yl:[['−2',1335,449],['−1',1360,430],['0',1383,411],['1',1405,393],['2',1428,375],['3',1448,357]],
  zl:[['2.0',1483,151],['1.8',1483,184],['1.6',1483,216],['1.4',1483,248],['1.2',1483,280],['1.0',1483,310]],
  xt:[1155,440],yt:[1420,410],zt:[1515,225],leg:[1352,62],traj:trajC}
];
function lerp(a,b,t){return [a[0]+(b[0]-a[0])*t,a[1]+(b[1]-a[1])*t];}
panels.forEach(p=>{
 const g=mk('g',{});
 
 
 const pts=a=>a.map(q=>q[0]+','+q[1]).join(' ');
 mk('polygon',{points:pts([p.L0,p.B0,p.B1,p.L1]),fill:'#f6f6f6',stroke:'none'},g);
 mk('polygon',{points:pts([p.B0,p.R0,p.R1,p.B1]),fill:'#ededed',stroke:'none'},g);
 mk('polygon',{points:pts([p.L0,p.F0,p.R0,p.B0]),fill:'#f2f2f2',stroke:'none'},g);
 const gl=(a,b)=>mk('line',{x1:a[0],y1:a[1],x2:b[0],y2:b[1],stroke:'#c6c6c6','stroke-width':0.85},g);
 const xf=p.xl.map(l=>Math.max(0.02,Math.min(0.98,(l[1]+8-p.L0[0])/(p.F0[0]-p.L0[0]))));
 const yf=p.yl.map(l=>Math.max(0.02,Math.min(0.98,(l[1]-12-p.F0[0])/(p.R0[0]-p.F0[0]))));
 const zf=p.zl.map(l=>(p.R0[1]-(l[2]-4))/(p.R0[1]-p.R1[1]));
 xf.forEach(f=>{
  gl(lerp(p.L0,p.F0,f),lerp(p.B0,p.R0,f));
  gl(lerp(p.B0,p.R0,f),lerp(p.B1,p.R1,f));
 });
 yf.forEach(f=>{
  gl(lerp(p.L0,p.B0,f),lerp(p.F0,p.R0,f));
  gl(lerp(p.L0,p.B0,f),lerp(p.L1,p.B1,f));
 });
 zf.forEach(f=>{
  const hb=lerp(p.B0,p.B1,f),hr=lerp(p.R0,p.R1,f),hl=lerp(p.L0,p.L1,f);
  gl(hl,hb);gl(hb,hr);
 });
 const ax=(a,b)=>mk('line',{x1:a[0],y1:a[1],x2:b[0],y2:b[1],stroke:'#000','stroke-width':0.9},g);
 ax(p.L0,p.F0);ax(p.F0,p.R0);ax(p.R0,p.R1);
 xf.forEach(f=>{const a=lerp(p.L0,p.F0,f);ax(a,[a[0]-2,a[1]+4]);});
 yf.forEach(f=>{const a=lerp(p.F0,p.R0,f);ax(a,[a[0]+4,a[1]+2]);});
 zf.forEach(f=>{const a=lerp(p.R0,p.R1,f);ax(a,[a[0]+4,a[1]]);});
 const tx=(s,x,y,anchor,rot)=>{const t=mk('text',{x:x,y:y,'text-anchor':anchor||'middle','font-family':'DejaVu Sans, Liberation Sans, sans-serif','font-size':13},g);
  if(rot)t.setAttribute('transform',`rotate(${rot} ${x} ${y})`);t.textContent=s;return t;};
 p.xl.forEach(l=>{const t=tx(l[0],l[1],l[2]+5);});
 p.yl.forEach(l=>{const t=tx(l[0],l[1],l[2]+5);});
 p.zl.forEach(l=>{const t=tx(l[0],l[1],l[2]+5);});
 let t=tx('x [m]',p.xt[0],p.xt[1]+5,'middle',18);
 t=tx('y [m]',p.yt[0],p.yt[1]+5,'middle',-50);
 t=tx('z [m]',p.zt[0],p.zt[1]+5,'middle',-90);
 const pl=s=>s.map(q=>q[0]+','+q[1]).join(' ');
 const r=mk('polyline',{points:pl(p.traj),fill:'none',stroke:'#ff0000','stroke-width':1.1,transform:'translate(-1.5,-1.2)','stroke-linejoin':'round'},g);
 
 const b=mk('polyline',{points:pl(p.traj),fill:'none',stroke:'#0000ff','stroke-width':1.1,'stroke-linejoin':'round'},g);
 
 const lg=mk('g',{},g);
 
 mk('rect',{x:p.leg[0],y:p.leg[1],width:154,height:48,rx:2,fill:'#fff','fill-opacity':0.85,stroke:'#ccc','stroke-width':0.8},lg);
 mk('line',{x1:p.leg[0]+6,x2:p.leg[0]+37,y1:p.leg[1]+13,y2:p.leg[1]+13,stroke:'#ff0000','stroke-width':1.1},lg);
 mk('line',{x1:p.leg[0]+6,x2:p.leg[0]+37,y1:p.leg[1]+35,y2:p.leg[1]+35,stroke:'#0000ff','stroke-width':1.1},lg);
 let e=mk('text',{x:p.leg[0]+49,y:p.leg[1]+18,'font-family':'DejaVu Sans, Liberation Sans, sans-serif','font-size':14},lg);e.textContent='Ground Truth';
 e=mk('text',{x:p.leg[0]+49,y:p.leg[1]+40,'font-family':'DejaVu Sans, Liberation Sans, sans-serif','font-size':14},lg);e.textContent='Proposed';
});
</script>
</body></html>
